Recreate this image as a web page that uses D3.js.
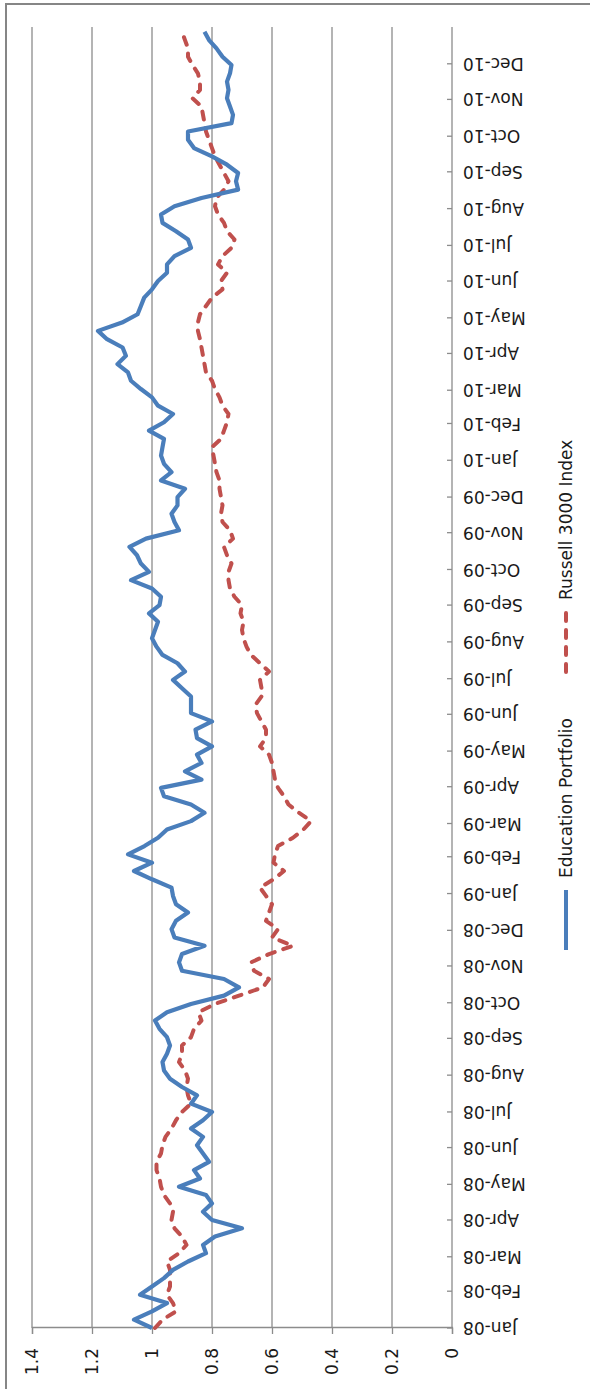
<!DOCTYPE html>
<html>
<head>
<meta charset="utf-8">
<script src="https://cdn.jsdelivr.net/npm/d3@7"></script>
<style>
  body { margin: 0; background: #fff; }
  text { font-family: "DejaVu Sans", sans-serif; fill: #1a1a1a; }
</style>
</head>
<body>
<svg width="590" height="1389"></svg>
<script>
// Weekly values, first week starting Jan 1 2008
var startDate = new Date(2008, 0, 1);

var education = [
  1.00, 1.06, 1.00, 0.95, 1.04, 1.00, 0.96, 0.93, 0.88, 0.82,
  0.83, 0.79, 0.70, 0.80, 0.83, 0.80, 0.82, 0.91, 0.84, 0.86,
  0.81, 0.83, 0.85, 0.83, 0.87, 0.83, 0.80, 0.87, 0.85, 0.90,
  0.94, 0.96, 0.965, 0.95, 0.94, 0.95, 0.975, 0.99, 0.95, 0.87,
  0.76, 0.71, 0.76, 0.90, 0.91, 0.90, 0.825, 0.925, 0.935, 0.92,
  0.88, 0.92, 0.93, 0.935, 1.00, 1.06, 1.00, 1.08, 1.025, 0.98,
  0.95, 0.87, 0.825, 0.87, 0.96, 0.97, 0.835, 0.89, 0.835, 0.85,
  0.80, 0.85, 0.855, 0.80, 0.87, 0.87, 0.87, 0.90, 0.93, 0.89,
  0.915, 0.965, 0.985, 1.00, 0.99, 0.98, 1.01, 0.975, 0.97, 1.00,
  1.07, 1.01, 1.037, 1.05, 1.075, 1.02, 0.91, 0.925, 0.935, 0.915,
  0.915, 0.89, 0.97, 0.935, 0.96, 0.97, 0.965, 0.96, 1.01, 0.96,
  0.93, 0.98, 1.00, 1.037, 1.07, 1.08, 1.115, 1.087, 1.098, 1.15,
  1.18, 1.10, 1.048, 1.037, 1.026, 1.00, 0.98, 0.95, 0.95, 0.925,
  0.87, 0.88, 0.92, 0.965, 0.97, 0.925, 0.835, 0.713, 0.72, 0.713,
  0.75, 0.80, 0.86, 0.88, 0.88, 0.735, 0.73, 0.74, 0.75, 0.745,
  0.75, 0.74, 0.735, 0.765, 0.785, 0.81, 0.825
];

var russell = [
  0.99, 0.965, 0.92, 0.93, 0.95, 0.94, 0.94, 0.94, 0.95, 0.91,
  0.885, 0.90, 0.925, 0.935, 0.93, 0.94, 0.96, 0.97, 0.975, 0.985,
  0.985, 0.97, 0.965, 0.955, 0.935, 0.92, 0.90, 0.87, 0.88, 0.885,
  0.88, 0.89, 0.91, 0.90, 0.90, 0.87, 0.86, 0.835, 0.845, 0.79,
  0.71, 0.63, 0.61, 0.66, 0.67, 0.61, 0.53, 0.60, 0.58, 0.62,
  0.61, 0.60, 0.62, 0.64, 0.595, 0.56, 0.595, 0.59, 0.58, 0.53,
  0.495, 0.47, 0.51, 0.545, 0.56, 0.58, 0.59, 0.595, 0.60, 0.61,
  0.64, 0.62, 0.62, 0.635, 0.65, 0.655, 0.635, 0.635, 0.64, 0.61,
  0.64, 0.67, 0.685, 0.695, 0.70, 0.695, 0.705, 0.70, 0.725, 0.74,
  0.745, 0.745, 0.735, 0.75, 0.76, 0.73, 0.74, 0.765, 0.77, 0.765,
  0.77, 0.775, 0.775, 0.785, 0.79, 0.795, 0.80, 0.77, 0.76, 0.75,
  0.745, 0.765, 0.775, 0.79, 0.80, 0.82, 0.825, 0.83, 0.835, 0.84,
  0.847, 0.847, 0.84, 0.82, 0.80, 0.765, 0.77, 0.75, 0.78, 0.765,
  0.735, 0.725, 0.75, 0.76, 0.78, 0.79, 0.785, 0.76, 0.745, 0.76,
  0.775, 0.79, 0.80, 0.81, 0.82, 0.825, 0.83, 0.835, 0.865, 0.84,
  0.84, 0.847, 0.865, 0.88, 0.88, 0.89, 0.90
];

var valueTicks = [0, 0.2, 0.4, 0.6, 0.8, 1, 1.2, 1.4];
var seriesNames = ["Education Portfolio", "Russell 3000 Index"];
var seriesColors = ["#4a7ebb", "#c0504d"];

var svg = d3.select("svg");
var W = 1389, H = 590; // chart drawn unrotated, then turned 90deg CCW

// outer frame
svg.append("rect")
    .attr("x", 6).attr("y", 4)
    .attr("width", 620).attr("height", 1420)
    .attr("fill", "none")
    .attr("stroke", "#868686")
    .attr("stroke-width", 2);

var g = svg.append("g")
    .attr("transform", "translate(0," + W + ") rotate(-90)");

var x = d3.scaleTime()
    .domain([new Date(2008, 0, 1), new Date(2011, 0, 1)])
    .range([61, 1362]);
var y = d3.scaleLinear().domain([0, 1.4]).range([452, 32]);

function weekDate(i) {
    return d3.timeDay.offset(startDate, i * 7);
}

// gridlines
g.selectAll(".grid")
    .data(valueTicks.filter(d => d > 0))
    .enter().append("line")
    .attr("class", "grid")
    .attr("x1", x.range()[0]).attr("x2", x.range()[1])
    .attr("y1", d => y(d)).attr("y2", d => y(d))
    .attr("stroke", "#8c8c8c")
    .attr("stroke-width", 1.3);

// value axis
var yAxis = d3.axisLeft(y).tickValues(valueTicks).tickSize(6).tickPadding(14)
    .tickFormat(d3.format("~g"));
var yG = g.append("g")
    .attr("transform", "translate(" + x.range()[0] + ",0)")
    .call(yAxis);
yG.select(".domain").attr("stroke", "#8c8c8c").attr("stroke-width", 1.3);
yG.selectAll(".tick line").attr("stroke", "#8c8c8c").attr("stroke-width", 1.3);
yG.selectAll(".tick text")
    .attr("font-size", 17)
    .attr("font-family", "DejaVu Sans")
    .attr("fill", "#1a1a1a");

// date axis
var months = d3.timeMonth.range(new Date(2008, 0, 1), new Date(2011, 0, 1));
var xG = g.append("g")
    .attr("transform", "translate(0," + y(0) + ")");
xG.append("line")
    .attr("x1", x.range()[0]).attr("x2", x.range()[1])
    .attr("stroke", "#8c8c8c").attr("stroke-width", 1.3);
xG.selectAll(".mtick")
    .data(months)
    .enter().append("line")
    .attr("class", "mtick")
    .attr("x1", d => x(d)).attr("x2", d => x(d))
    .attr("y1", -5).attr("y2", 0)
    .attr("stroke", "#8c8c8c").attr("stroke-width", 1.3);
xG.selectAll(".mlabel")
    .data(months)
    .enter().append("text")
    .attr("class", "mlabel")
    .attr("transform", d => "translate(" + x(d) + ",11) rotate(-90)")
    .attr("text-anchor", "end")
    .attr("dy", "0.35em")
    .attr("font-size", 17)
    .text(d3.timeFormat("%b-%y"));

// lines
var line = d3.line()
    .x((d, i) => x(weekDate(i)))
    .y(d => y(d));

g.append("path")
    .datum(russell)
    .attr("d", line)
    .attr("fill", "none")
    .attr("stroke", seriesColors[1])
    .attr("stroke-width", 4)
    .attr("stroke-dasharray", "8,9")
    .attr("stroke-linecap", "round")
    .attr("stroke-linejoin", "round");

g.append("path")
    .datum(education)
    .attr("d", line)
    .attr("fill", "none")
    .attr("stroke", seriesColors[0])
    .attr("stroke-width", 4.2)
    .attr("stroke-linejoin", "round");

// legend
var legendY = 566;
var legendX = [439, 717];
var legend = g.selectAll(".legend")
    .data(seriesNames)
    .enter().append("g")
    .attr("class", "legend")
    .attr("transform", (d, i) => "translate(" + legendX[i] + "," + legendY + ")");
legend.append("line")
    .attr("x1", 0).attr("x2", 60)
    .attr("stroke", (d, i) => seriesColors[i])
    .attr("stroke-width", 4)
    .attr("stroke-dasharray", (d, i) => i ? "8,9" : null)
    .attr("stroke-linecap", (d, i) => i ? "round" : "butt");
legend.append("text")
    .attr("x", 72)
    .attr("dy", "0.35em")
    .attr("font-size", 17)
    .text(d => d);
</script>
</body>
</html>
